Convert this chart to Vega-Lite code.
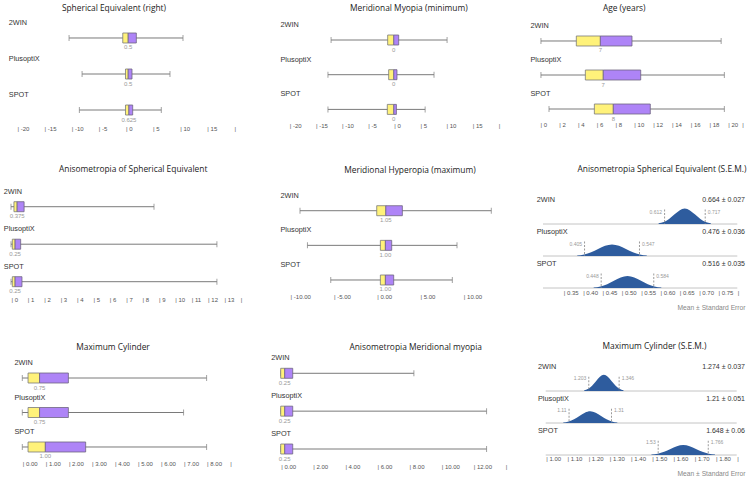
{
"$schema": "https://vega.github.io/schema/vega-lite/v6.json",
"padding": {"left": 2, "top": 3, "right": 2, "bottom": 2},
"background": "white",
"columns": 3,
"bounds": "flush",
"align": "each",
"spacing": {"row": 76, "column": 28},
"config": {
  "view": {"stroke": null},
  "font": "Liberation Sans",
  "title": {"font": "Open Sans", "fontSize": 8.4, "fontWeight": "normal", "color": "#222", "baseline": "middle", "frame": "group", "anchor": "middle"},
  "axis": {"grid": false, "domain": false, "ticks": false, "labelFont": "Liberation Sans", "labelFontSize": 6, "labelColor": "#555", "labelFlush": false, "labelOverlap": false, "labelBound": false},
  "axisX": {"labelAlign": "left", "labelBaseline": "middle", "labelDx": -1, "labelOverlap": false, "tickCount": 100},
  "axisY": {"labelAlign": "left", "labelBaseline": "middle", "labelFontSize": 7.3, "labelColor": "#333", "labelOffset": -15.5},
  "text": {"font": "Liberation Sans"}
},
"datasets": {
  "se": [
    {"device": "2WIN", "min": -10.4, "q1": -0.5, "median": 0.5, "q3": 2.0, "max": 10.6, "medianLabel": "0.5"},
    {"device": "PlusoptiX", "min": -8.0, "q1": 0.0, "median": 0.5, "q3": 1.2, "max": 8.2, "medianLabel": "0.5"},
    {"device": "SPOT", "min": -8.5, "q1": 0.0, "median": 0.625, "q3": 1.33, "max": 6.6, "medianLabel": "0.625"}
  ],
  "mm": [
    {"device": "2WIN", "min": -12.0, "q1": -1.17, "median": 0, "q3": 0.94, "max": 10.2, "medianLabel": "0"},
    {"device": "PlusoptiX", "min": -12.6, "q1": -0.98, "median": 0, "q3": 0.61, "max": 7.7, "medianLabel": "0"},
    {"device": "SPOT", "min": -12.6, "q1": -1.24, "median": 0, "q3": 0.5, "max": 6.0, "medianLabel": "0"}
  ],
  "age": [
    {"device": "2WIN", "min": 0.1, "q1": 3.87, "median": 6.43, "q3": 9.8, "max": 19.3, "medianLabel": "7"},
    {"device": "PlusoptiX", "min": 0.1, "q1": 4.83, "median": 6.74, "q3": 10.73, "max": 19.64, "medianLabel": "7"},
    {"device": "SPOT", "min": 0.96, "q1": 5.79, "median": 7.81, "q3": 11.75, "max": 19.64, "medianLabel": "8"}
  ],
  "aniso": [
    {"device": "2WIN", "min": 0, "q1": 0.18, "median": 0.375, "q3": 0.8, "max": 8.73, "medianLabel": "0.375"},
    {"device": "PlusoptiX", "min": 0, "q1": 0.08, "median": 0.25, "q3": 0.59, "max": 12.57, "medianLabel": "0.25"},
    {"device": "SPOT", "min": 0, "q1": 0.08, "median": 0.25, "q3": 0.67, "max": 12.57, "medianLabel": "0.25"}
  ],
  "mh": [
    {"device": "2WIN", "min": -8.86, "q1": 0, "median": 1.05, "q3": 2.96, "max": 13.23, "medianLabel": "1.05"},
    {"device": "PlusoptiX", "min": -8.0, "q1": 0.42, "median": 1.0, "q3": 1.73, "max": 9.27, "medianLabel": "1.00"},
    {"device": "SPOT", "min": -5.31, "q1": 0.42, "median": 1.0, "q3": 1.96, "max": 8.73, "medianLabel": "1.00"}
  ],
  "cyl": [
    {"device": "2WIN", "min": 0, "q1": 0.25, "median": 0.75, "q3": 2.0, "max": 8.0, "medianLabel": "0.75"},
    {"device": "PlusoptiX", "min": 0, "q1": 0.25, "median": 0.75, "q3": 2.0, "max": 7.0, "medianLabel": "0.75"},
    {"device": "SPOT", "min": 0, "q1": 0.25, "median": 1.0, "q3": 2.75, "max": 8.0, "medianLabel": "1.00"}
  ],
  "amm": [
    {"device": "2WIN", "min": 0, "q1": 0, "median": 0.25, "q3": 0.75, "max": 8.3, "medianLabel": "0.25"},
    {"device": "PlusoptiX", "min": 0, "q1": 0, "median": 0.25, "q3": 0.75, "max": 12.83, "medianLabel": "0.25"},
    {"device": "SPOT", "min": 0, "q1": 0, "median": 0.25, "q3": 0.75, "max": 12.83, "medianLabel": "0.25"}
  ],
  "semA": [
    {"device": "2WIN", "x": 0.5965, "density": 0.65}, {"device": "2WIN", "x": 0.610, "density": 2.0}, {"device": "2WIN", "x": 0.6235, "density": 4.8}, {"device": "2WIN", "x": 0.637, "density": 9.0}, {"device": "2WIN", "x": 0.6505, "density": 13.0}, {"device": "2WIN", "x": 0.664, "density": 14.8}, {"device": "2WIN", "x": 0.6775, "density": 13.0}, {"device": "2WIN", "x": 0.691, "density": 9.0}, {"device": "2WIN", "x": 0.7045, "density": 4.8}, {"device": "2WIN", "x": 0.718, "density": 2.0}, {"device": "2WIN", "x": 0.7315, "density": 0.65},
    {"device": "PlusoptiX", "x": 0.386, "density": 0.5}, {"device": "PlusoptiX", "x": 0.404, "density": 1.5}, {"device": "PlusoptiX", "x": 0.422, "density": 3.6}, {"device": "PlusoptiX", "x": 0.440, "density": 6.7}, {"device": "PlusoptiX", "x": 0.458, "density": 9.8}, {"device": "PlusoptiX", "x": 0.476, "density": 11.1}, {"device": "PlusoptiX", "x": 0.494, "density": 9.8}, {"device": "PlusoptiX", "x": 0.512, "density": 6.7}, {"device": "PlusoptiX", "x": 0.530, "density": 3.6}, {"device": "PlusoptiX", "x": 0.548, "density": 1.5}, {"device": "PlusoptiX", "x": 0.566, "density": 0.5},
    {"device": "SPOT", "x": 0.4285, "density": 0.5}, {"device": "SPOT", "x": 0.446, "density": 1.5}, {"device": "SPOT", "x": 0.4635, "density": 3.7}, {"device": "SPOT", "x": 0.481, "density": 6.9}, {"device": "SPOT", "x": 0.4985, "density": 10.1}, {"device": "SPOT", "x": 0.516, "density": 11.4}, {"device": "SPOT", "x": 0.5335, "density": 10.1}, {"device": "SPOT", "x": 0.551, "density": 6.9}, {"device": "SPOT", "x": 0.5685, "density": 3.7}, {"device": "SPOT", "x": 0.586, "density": 1.5}, {"device": "SPOT", "x": 0.6035, "density": 0.5}
  ],
  "semAci": [
    {"device": "2WIN", "lo": 0.612, "hi": 0.717, "loLabel": "0.612", "hiLabel": "0.717", "valueLabel": "0.664 ± 0.027"},
    {"device": "PlusoptiX", "lo": 0.405, "hi": 0.547, "loLabel": "0.405", "hiLabel": "0.547", "valueLabel": "0.476 ± 0.036"},
    {"device": "SPOT", "lo": 0.448, "hi": 0.584, "loLabel": "0.448", "hiLabel": "0.584", "valueLabel": "0.516 ± 0.035"}
  ],
  "semC": [
    {"device": "2WIN", "x": 1.1815, "density": 0.47}, {"device": "2WIN", "x": 1.200, "density": 1.46}, {"device": "2WIN", "x": 1.2185, "density": 3.5}, {"device": "2WIN", "x": 1.237, "density": 6.54}, {"device": "2WIN", "x": 1.2555, "density": 9.5}, {"device": "2WIN", "x": 1.274, "density": 10.78}, {"device": "2WIN", "x": 1.2925, "density": 9.5}, {"device": "2WIN", "x": 1.311, "density": 6.54}, {"device": "2WIN", "x": 1.3295, "density": 3.5}, {"device": "2WIN", "x": 1.348, "density": 1.46}, {"device": "2WIN", "x": 1.3665, "density": 0.47},
    {"device": "PlusoptiX", "x": 1.0825, "density": 0.34}, {"device": "PlusoptiX", "x": 1.108, "density": 1.06}, {"device": "PlusoptiX", "x": 1.1335, "density": 2.54}, {"device": "PlusoptiX", "x": 1.159, "density": 4.75}, {"device": "PlusoptiX", "x": 1.1845, "density": 6.9}, {"device": "PlusoptiX", "x": 1.21, "density": 7.82}, {"device": "PlusoptiX", "x": 1.2355, "density": 6.9}, {"device": "PlusoptiX", "x": 1.261, "density": 4.75}, {"device": "PlusoptiX", "x": 1.2865, "density": 2.54}, {"device": "PlusoptiX", "x": 1.312, "density": 1.06}, {"device": "PlusoptiX", "x": 1.3375, "density": 0.34},
    {"device": "SPOT", "x": 1.498, "density": 0.29}, {"device": "SPOT", "x": 1.528, "density": 0.9}, {"device": "SPOT", "x": 1.558, "density": 2.16}, {"device": "SPOT", "x": 1.588, "density": 4.03}, {"device": "SPOT", "x": 1.618, "density": 5.87}, {"device": "SPOT", "x": 1.648, "density": 6.65}, {"device": "SPOT", "x": 1.678, "density": 5.87}, {"device": "SPOT", "x": 1.708, "density": 4.03}, {"device": "SPOT", "x": 1.738, "density": 2.16}, {"device": "SPOT", "x": 1.768, "density": 0.9}, {"device": "SPOT", "x": 1.798, "density": 0.29}
  ],
  "semCci": [
    {"device": "2WIN", "lo": 1.203, "hi": 1.346, "loLabel": "1.203", "hiLabel": "1.346", "valueLabel": "1.274 ± 0.037"},
    {"device": "PlusoptiX", "lo": 1.11, "hi": 1.31, "loLabel": "1.11", "hiLabel": "1.31", "valueLabel": "1.21 ± 0.051"},
    {"device": "SPOT", "lo": 1.53, "hi": 1.766, "loLabel": "1.53", "hiLabel": "1.766", "valueLabel": "1.648 ± 0.06"}
  ]
},
"concat": [
  {
    "width": 248, "height": 96,
    "title": {"text": "Spherical Equivalent (right)", "offset": 5.65, "dx": -12},
    "data": {"name": "se"},
    "encoding": {"y": {"field": "device", "type": "nominal", "title": null, "scale": {"type": "point", "padding": 0.333, "domain": ["2WIN", "PlusoptiX", "SPOT"]}, "axis": {"labelPadding": -6.3}}},
    "layer": [
      {"mark": {"type": "rule", "color": "#7a7a7a", "strokeWidth": 1}, "encoding": {"x": {"field": "min", "type": "quantitative", "title": null, "scale": {"domain": [-22.76, 22.95], "nice": false, "zero": false}, "axis": {"title": null, "tickCount": 100, "labelOverlap": false, "values": [-20, -15, -10, -5, 0, 5, 10, 15, 20], "labelExpr": "datum.value == 20 ? '|' : '| ' + datum.value", "labelPadding": 6.4}}, "x2": {"field": "max"}}},
      {"mark": {"type": "tick", "color": "#7a7a7a", "thickness": 1, "size": 6}, "encoding": {"x": {"field": "min", "type": "quantitative", "title": null}}},
      {"mark": {"type": "tick", "color": "#7a7a7a", "thickness": 1, "size": 6}, "encoding": {"x": {"field": "max", "type": "quantitative", "title": null}}},
      {"mark": {"type": "bar", "height": 10, "fill": "#fff27a", "stroke": "#7a7a7a", "strokeWidth": 0.8}, "encoding": {"x": {"field": "q1", "type": "quantitative", "title": null}, "x2": {"field": "median"}}},
      {"mark": {"type": "bar", "height": 10, "fill": "#ae84f7", "stroke": "#6f6680", "strokeWidth": 0.8}, "encoding": {"x": {"field": "median", "type": "quantitative", "title": null}, "x2": {"field": "q3"}}},
      {"mark": {"type": "text", "dy": 9.5, "fontSize": 6, "color": "#999", "baseline": "middle"}, "encoding": {"x": {"field": "median", "type": "quantitative", "title": null}, "text": {"field": "medianLabel"}}}
    ]
  },
  {
    "width": 232, "height": 97.4,
    "title": {"text": "Meridional Myopia (minimum)", "offset": 7.65, "dx": 14.8},
    "data": {"name": "mm"},
    "encoding": {"y": {"field": "device", "type": "nominal", "title": null, "scale": {"type": "point", "padding": 0.4035, "domain": ["2WIN", "PlusoptiX", "SPOT"]}, "axis": {"labelPadding": -2}}},
    "layer": [
      {"mark": {"type": "rule", "color": "#7a7a7a", "strokeWidth": 1}, "encoding": {"x": {"field": "min", "type": "quantitative", "title": null, "scale": {"domain": [-22.16, 22.24], "nice": false, "zero": false}, "axis": {"title": null, "tickCount": 100, "labelOverlap": false, "values": [-20, -15, -10, -5, 0, 5, 10, 15, 20], "labelExpr": "datum.value == 20 ? '|' : '| ' + datum.value", "labelPadding": 2.3}}, "x2": {"field": "max"}}},
      {"mark": {"type": "tick", "color": "#7a7a7a", "thickness": 1, "size": 6}, "encoding": {"x": {"field": "min", "type": "quantitative", "title": null}}},
      {"mark": {"type": "tick", "color": "#7a7a7a", "thickness": 1, "size": 6}, "encoding": {"x": {"field": "max", "type": "quantitative", "title": null}}},
      {"mark": {"type": "bar", "height": 10, "fill": "#fff27a", "stroke": "#7a7a7a", "strokeWidth": 0.8}, "encoding": {"x": {"field": "q1", "type": "quantitative", "title": null}, "x2": {"field": "median"}}},
      {"mark": {"type": "bar", "height": 10, "fill": "#ae84f7", "stroke": "#6f6680", "strokeWidth": 0.8}, "encoding": {"x": {"field": "median", "type": "quantitative", "title": null}, "x2": {"field": "q3"}}},
      {"mark": {"type": "text", "dy": 9.5, "fontSize": 6, "color": "#999", "baseline": "middle"}, "encoding": {"x": {"field": "median", "type": "quantitative", "title": null}, "text": {"field": "medianLabel"}}}
    ]
  },
  {
    "width": 207, "height": 98,
    "title": {"text": "Age (years)", "offset": 9.25, "dx": -17.3},
    "data": {"name": "age"},
    "encoding": {"y": {"field": "device", "type": "nominal", "title": null, "scale": {"type": "point", "padding": 0.441, "domain": ["2WIN", "PlusoptiX", "SPOT"]}, "axis": {"labelPadding": 8}}},
    "layer": [
      {"mark": {"type": "rule", "color": "#7a7a7a", "strokeWidth": 1}, "encoding": {"x": {"field": "min", "type": "quantitative", "title": null, "scale": {"domain": [-0.213, 21.84], "nice": false, "zero": false}, "axis": {"title": null, "tickCount": 100, "labelOverlap": false, "values": [0, 2, 4, 6, 8, 10, 12, 14, 16, 18, 20, 21.5], "labelExpr": "datum.value > 21 ? '|' : '| ' + datum.value", "labelPadding": 0.4}}, "x2": {"field": "max"}}},
      {"mark": {"type": "tick", "color": "#7a7a7a", "thickness": 1, "size": 6}, "encoding": {"x": {"field": "min", "type": "quantitative", "title": null}}},
      {"mark": {"type": "tick", "color": "#7a7a7a", "thickness": 1, "size": 6}, "encoding": {"x": {"field": "max", "type": "quantitative", "title": null}}},
      {"mark": {"type": "bar", "height": 10, "fill": "#fff27a", "stroke": "#7a7a7a", "strokeWidth": 0.8}, "encoding": {"x": {"field": "q1", "type": "quantitative", "title": null}, "x2": {"field": "median"}}},
      {"mark": {"type": "bar", "height": 10, "fill": "#ae84f7", "stroke": "#6f6680", "strokeWidth": 0.8}, "encoding": {"x": {"field": "median", "type": "quantitative", "title": null}, "x2": {"field": "q3"}}},
      {"mark": {"type": "text", "dy": 9.5, "fontSize": 6, "color": "#999", "baseline": "middle"}, "encoding": {"x": {"field": "median", "type": "quantitative", "title": null}, "text": {"field": "medianLabel"}}}
    ]
  },
  {
    "width": 248, "height": 88.4,
    "title": {"text": "Anisometropia of Spherical Equivalent", "offset": 13.65, "dx": 7.2},
    "data": {"name": "aniso"},
    "encoding": {"y": {"field": "device", "type": "nominal", "title": null, "scale": {"type": "point", "padding": 0.179, "domain": ["2WIN", "PlusoptiX", "SPOT"]}, "axis": {"labelPadding": -1.3}}},
    "layer": [
      {"mark": {"type": "rule", "color": "#7a7a7a", "strokeWidth": 1}, "encoding": {"x": {"field": "min", "type": "quantitative", "title": null, "scale": {"domain": [-0.549, 14.59], "nice": false, "zero": false}, "axis": {"title": null, "tickCount": 100, "labelOverlap": false, "values": [0, 1, 2, 3, 4, 5, 6, 7, 8, 9, 10, 11, 12, 13, 14], "labelExpr": "datum.value == 14 ? '|' : '| ' + datum.value", "labelPadding": 10.9}}, "x2": {"field": "max"}}},
      {"mark": {"type": "tick", "color": "#7a7a7a", "thickness": 1, "size": 6}, "encoding": {"x": {"field": "min", "type": "quantitative", "title": null}}},
      {"mark": {"type": "tick", "color": "#7a7a7a", "thickness": 1, "size": 6}, "encoding": {"x": {"field": "max", "type": "quantitative", "title": null}}},
      {"mark": {"type": "bar", "height": 10, "fill": "#fff27a", "stroke": "#7a7a7a", "strokeWidth": 0.8}, "encoding": {"x": {"field": "q1", "type": "quantitative", "title": null}, "x2": {"field": "median"}}},
      {"mark": {"type": "bar", "height": 10, "fill": "#ae84f7", "stroke": "#6f6680", "strokeWidth": 0.8}, "encoding": {"x": {"field": "median", "type": "quantitative", "title": null}, "x2": {"field": "q3"}}},
      {"mark": {"type": "text", "dy": 9.5, "fontSize": 6, "color": "#999", "baseline": "middle"}, "encoding": {"x": {"field": "median", "type": "quantitative", "title": null}, "text": {"field": "medianLabel"}}}
    ]
  },
  {
    "width": 232, "height": 90.7,
    "title": {"text": "Meridional Hyperopia (maximum)", "offset": 16.65, "dx": 16},
    "data": {"name": "mh"},
    "encoding": {"y": {"field": "device", "type": "nominal", "title": null, "scale": {"type": "point", "padding": 0.309, "domain": ["2WIN", "PlusoptiX", "SPOT"]}, "axis": {"labelPadding": -2}}},
    "layer": [
      {"mark": {"type": "rule", "color": "#7a7a7a", "strokeWidth": 1}, "encoding": {"x": {"field": "min", "type": "quantitative", "title": null, "scale": {"domain": [-11.40, 15.39], "nice": false, "zero": false}, "axis": {"title": null, "tickCount": 100, "labelOverlap": false, "values": [-10, -5, 0, 5, 10], "labelExpr": "'| ' + (datum.value < 0 ? '-' : '') + format(abs(datum.value), '.2f')", "labelPadding": 5.3}}, "x2": {"field": "max"}}},
      {"mark": {"type": "tick", "color": "#7a7a7a", "thickness": 1, "size": 6}, "encoding": {"x": {"field": "min", "type": "quantitative", "title": null}}},
      {"mark": {"type": "tick", "color": "#7a7a7a", "thickness": 1, "size": 6}, "encoding": {"x": {"field": "max", "type": "quantitative", "title": null}}},
      {"mark": {"type": "bar", "height": 10, "fill": "#fff27a", "stroke": "#7a7a7a", "strokeWidth": 0.8}, "encoding": {"x": {"field": "q1", "type": "quantitative", "title": null}, "x2": {"field": "median"}}},
      {"mark": {"type": "bar", "height": 10, "fill": "#ae84f7", "stroke": "#6f6680", "strokeWidth": 0.8}, "encoding": {"x": {"field": "median", "type": "quantitative", "title": null}, "x2": {"field": "q3"}}},
      {"mark": {"type": "text", "dy": 9.5, "fontSize": 6, "color": "#999", "baseline": "middle"}, "encoding": {"x": {"field": "median", "type": "quantitative", "title": null}, "text": {"field": "medianLabel"}}}
    ]
  },
  {
    "bounds": "flush",
    "spacing": 8,
    "vconcat": [
      {
        "width": 207, "height": 24,
        "title": {"text": "Anisometropia Spherical Equivalent (S.E.M.)", "offset": 22.15, "dx": 20.5},
        "layer": [
          {"data": {"name": "semAci"}, "transform": [{"filter": "datum.device == '2WIN'"}], "mark": {"type": "rule", "color": "#c4c4c4", "strokeWidth": 1}, "encoding": {"x": {"datum": 0.2975, "type": "quantitative", "scale": {"domain": [0.2846, 0.8199], "nice": false, "zero": false}, "axis": {"labels": false, "title": null}}, "x2": {"datum": 0.8}, "y": {"datum": 0, "type": "quantitative", "scale": {"domain": [0, 23], "nice": false, "zero": false}, "axis": {"labels": false, "title": null}}}},
          {"data": {"name": "semA"}, "transform": [{"filter": "datum.device == '2WIN'"}], "mark": {"type": "area", "color": "#2e5c9e", "interpolate": "monotone"}, "encoding": {"x": {"field": "x", "type": "quantitative", "title": null}, "y": {"field": "density", "type": "quantitative", "title": null}}},
          {"data": {"name": "semAci"}, "transform": [{"filter": "datum.device == '2WIN'"}], "layer": [
            {"mark": {"type": "rule", "color": "#9a9a9a", "strokeDash": [2, 1.5], "strokeWidth": 1}, "encoding": {"x": {"field": "lo", "type": "quantitative", "title": null}, "y": {"datum": 13.9, "type": "quantitative"}, "y2": {"datum": 0}}},
            {"mark": {"type": "rule", "color": "#9a9a9a", "strokeDash": [2, 1.5], "strokeWidth": 1}, "encoding": {"x": {"field": "hi", "type": "quantitative", "title": null}, "y": {"datum": 13.9, "type": "quantitative"}, "y2": {"datum": 0}}},
            {"mark": {"type": "text", "align": "right", "dx": -2.5, "fontSize": 5, "color": "#999", "baseline": "middle"}, "encoding": {"x": {"field": "lo", "type": "quantitative", "title": null}, "y": {"datum": 11.5, "type": "quantitative"}, "text": {"field": "loLabel"}}},
            {"mark": {"type": "text", "align": "left", "dx": 2.5, "fontSize": 5, "color": "#999", "baseline": "middle"}, "encoding": {"x": {"field": "hi", "type": "quantitative", "title": null}, "y": {"datum": 11.5, "type": "quantitative"}, "text": {"field": "hiLabel"}}},
            {"mark": {"type": "text", "align": "left", "dx": -1.3, "fontSize": 7.3, "color": "#333", "baseline": "middle"}, "encoding": {"x": {"datum": 0.2846, "type": "quantitative"}, "y": {"datum": 23, "type": "quantitative"}, "text": {"field": "device"}}},
            {"mark": {"type": "text", "align": "right", "fontSize": 7, "color": "#333", "baseline": "middle"}, "encoding": {"x": {"datum": 0.8199, "type": "quantitative"}, "y": {"datum": 23, "type": "quantitative"}, "text": {"field": "valueLabel"}}}
          ]}
        ]
      },
      {
        "width": 207, "height": 24,
        "layer": [
          {"data": {"name": "semAci"}, "transform": [{"filter": "datum.device == 'PlusoptiX'"}], "mark": {"type": "rule", "color": "#c4c4c4", "strokeWidth": 1}, "encoding": {"x": {"datum": 0.2975, "type": "quantitative", "scale": {"domain": [0.2846, 0.8199], "nice": false, "zero": false}, "axis": {"labels": false, "title": null}}, "x2": {"datum": 0.8}, "y": {"datum": 0, "type": "quantitative", "scale": {"domain": [0, 23], "nice": false, "zero": false}, "axis": {"labels": false, "title": null}}}},
          {"data": {"name": "semA"}, "transform": [{"filter": "datum.device == 'PlusoptiX'"}], "mark": {"type": "area", "color": "#2e5c9e", "interpolate": "monotone"}, "encoding": {"x": {"field": "x", "type": "quantitative", "title": null}, "y": {"field": "density", "type": "quantitative", "title": null}}},
          {"data": {"name": "semAci"}, "transform": [{"filter": "datum.device == 'PlusoptiX'"}], "layer": [
            {"mark": {"type": "rule", "color": "#9a9a9a", "strokeDash": [2, 1.5], "strokeWidth": 1}, "encoding": {"x": {"field": "lo", "type": "quantitative", "title": null}, "y": {"datum": 13.9, "type": "quantitative"}, "y2": {"datum": 0}}},
            {"mark": {"type": "rule", "color": "#9a9a9a", "strokeDash": [2, 1.5], "strokeWidth": 1}, "encoding": {"x": {"field": "hi", "type": "quantitative", "title": null}, "y": {"datum": 13.9, "type": "quantitative"}, "y2": {"datum": 0}}},
            {"mark": {"type": "text", "align": "right", "dx": -2.5, "fontSize": 5, "color": "#999", "baseline": "middle"}, "encoding": {"x": {"field": "lo", "type": "quantitative", "title": null}, "y": {"datum": 11.5, "type": "quantitative"}, "text": {"field": "loLabel"}}},
            {"mark": {"type": "text", "align": "left", "dx": 2.5, "fontSize": 5, "color": "#999", "baseline": "middle"}, "encoding": {"x": {"field": "hi", "type": "quantitative", "title": null}, "y": {"datum": 11.5, "type": "quantitative"}, "text": {"field": "hiLabel"}}},
            {"mark": {"type": "text", "align": "left", "dx": -1.3, "fontSize": 7.3, "color": "#333", "baseline": "middle"}, "encoding": {"x": {"datum": 0.2846, "type": "quantitative"}, "y": {"datum": 23, "type": "quantitative"}, "text": {"field": "device"}}},
            {"mark": {"type": "text", "align": "right", "fontSize": 7, "color": "#333", "baseline": "middle"}, "encoding": {"x": {"datum": 0.8199, "type": "quantitative"}, "y": {"datum": 23, "type": "quantitative"}, "text": {"field": "valueLabel"}}}
          ]}
        ]
      },
      {
        "width": 207, "height": 24,
        "layer": [
          {"data": {"name": "semAci"}, "transform": [{"filter": "datum.device == 'SPOT'"}], "mark": {"type": "rule", "color": "#c4c4c4", "strokeWidth": 1}, "encoding": {"x": {"datum": 0.2975, "type": "quantitative", "scale": {"domain": [0.2846, 0.8199], "nice": false, "zero": false}, "axis": {"title": "Mean ± Standard Error", "tickCount": 100, "labelOverlap": false, "values": [0.35, 0.4, 0.45, 0.5, 0.55, 0.6, 0.65, 0.7, 0.75, 0.8], "labelExpr": "datum.value > 0.79 ? '|' : '| ' + format(datum.value, '.2f')", "labelPadding": 4.4, "titleFont": "Liberation Sans", "titleFontSize": 6.7, "titleFontWeight": "normal", "titleColor": "#888", "titleAnchor": "end", "titleAlign": "right", "titlePadding": 9}}, "x2": {"datum": 0.8}, "y": {"datum": 0, "type": "quantitative", "scale": {"domain": [0, 23], "nice": false, "zero": false}, "axis": {"labels": false, "title": null}}}},
          {"data": {"name": "semA"}, "transform": [{"filter": "datum.device == 'SPOT'"}], "mark": {"type": "area", "color": "#2e5c9e", "interpolate": "monotone"}, "encoding": {"x": {"field": "x", "type": "quantitative"}, "y": {"field": "density", "type": "quantitative", "title": null}}},
          {"data": {"name": "semAci"}, "transform": [{"filter": "datum.device == 'SPOT'"}], "layer": [
            {"mark": {"type": "rule", "color": "#9a9a9a", "strokeDash": [2, 1.5], "strokeWidth": 1}, "encoding": {"x": {"field": "lo", "type": "quantitative"}, "y": {"datum": 13.9, "type": "quantitative"}, "y2": {"datum": 0}}},
            {"mark": {"type": "rule", "color": "#9a9a9a", "strokeDash": [2, 1.5], "strokeWidth": 1}, "encoding": {"x": {"field": "hi", "type": "quantitative"}, "y": {"datum": 13.9, "type": "quantitative"}, "y2": {"datum": 0}}},
            {"mark": {"type": "text", "align": "right", "dx": -2.5, "fontSize": 5, "color": "#999", "baseline": "middle"}, "encoding": {"x": {"field": "lo", "type": "quantitative"}, "y": {"datum": 11.5, "type": "quantitative"}, "text": {"field": "loLabel"}}},
            {"mark": {"type": "text", "align": "left", "dx": 2.5, "fontSize": 5, "color": "#999", "baseline": "middle"}, "encoding": {"x": {"field": "hi", "type": "quantitative"}, "y": {"datum": 11.5, "type": "quantitative"}, "text": {"field": "hiLabel"}}},
            {"mark": {"type": "text", "align": "left", "dx": -1.3, "fontSize": 7.3, "color": "#333", "baseline": "middle"}, "encoding": {"x": {"datum": 0.2846, "type": "quantitative"}, "y": {"datum": 23, "type": "quantitative"}, "text": {"field": "device"}}},
            {"mark": {"type": "text", "align": "right", "fontSize": 7, "color": "#333", "baseline": "middle"}, "encoding": {"x": {"datum": 0.8199, "type": "quantitative"}, "y": {"datum": 23, "type": "quantitative"}, "text": {"field": "valueLabel"}}}
          ]}
        ]
      }
    ]
  },
  {
    "width": 248, "height": 91,
    "title": {"text": "Maximum Cylinder", "offset": 7.35, "dx": -13},
    "data": {"name": "cyl"},
    "encoding": {"y": {"field": "device", "type": "nominal", "title": null, "scale": {"type": "point", "padding": 0.319, "domain": ["2WIN", "PlusoptiX", "SPOT"]}, "axis": {"labelPadding": -12}}},
    "layer": [
      {"mark": {"type": "rule", "color": "#7a7a7a", "strokeWidth": 1}, "encoding": {"x": {"field": "min", "type": "quantitative", "title": null, "scale": {"domain": [-0.881, 9.883], "nice": false, "zero": false}, "axis": {"title": null, "tickCount": 100, "labelOverlap": false, "values": [0, 1, 2, 3, 4, 5, 6, 7, 8, 9], "labelExpr": "datum.value == 9 ? '|' : '| ' + format(datum.value, '.2f')", "labelPadding": 5}}, "x2": {"field": "max"}}},
      {"mark": {"type": "tick", "color": "#7a7a7a", "thickness": 1, "size": 6}, "encoding": {"x": {"field": "min", "type": "quantitative", "title": null}}},
      {"mark": {"type": "tick", "color": "#7a7a7a", "thickness": 1, "size": 6}, "encoding": {"x": {"field": "max", "type": "quantitative", "title": null}}},
      {"mark": {"type": "bar", "height": 10, "fill": "#fff27a", "stroke": "#7a7a7a", "strokeWidth": 0.8}, "encoding": {"x": {"field": "q1", "type": "quantitative", "title": null}, "x2": {"field": "median"}}},
      {"mark": {"type": "bar", "height": 10, "fill": "#ae84f7", "stroke": "#6f6680", "strokeWidth": 0.8}, "encoding": {"x": {"field": "median", "type": "quantitative", "title": null}, "x2": {"field": "q3"}}},
      {"mark": {"type": "text", "dy": 9.5, "fontSize": 6, "color": "#999", "baseline": "middle"}, "encoding": {"x": {"field": "median", "type": "quantitative", "title": null}, "text": {"field": "medianLabel"}}}
    ]
  },
  {
    "width": 232, "height": 88.3,
    "title": {"text": "Anisometropia Meridional myopia", "offset": 2.25, "dx": 21.7},
    "data": {"name": "amm"},
    "encoding": {"y": {"field": "device", "type": "nominal", "title": null, "scale": {"type": "point", "padding": 0.166, "domain": ["2WIN", "PlusoptiX", "SPOT"]}, "axis": {"labelPadding": 7.3}}},
    "layer": [
      {"mark": {"type": "rule", "color": "#7a7a7a", "strokeWidth": 1}, "encoding": {"x": {"field": "min", "type": "quantitative", "title": null, "scale": {"domain": [-0.168, 14.29], "nice": false, "zero": false}, "axis": {"title": null, "tickCount": 100, "labelOverlap": false, "values": [0, 2, 4, 6, 8, 10, 12, 14], "labelExpr": "datum.value == 14 ? '|' : '| ' + format(datum.value, '.2f')", "labelPadding": 11}}, "x2": {"field": "max"}}},
      {"mark": {"type": "tick", "color": "#7a7a7a", "thickness": 1, "size": 6}, "encoding": {"x": {"field": "min", "type": "quantitative", "title": null}}},
      {"mark": {"type": "tick", "color": "#7a7a7a", "thickness": 1, "size": 6}, "encoding": {"x": {"field": "max", "type": "quantitative", "title": null}}},
      {"mark": {"type": "bar", "height": 10, "fill": "#fff27a", "stroke": "#7a7a7a", "strokeWidth": 0.8}, "encoding": {"x": {"field": "q1", "type": "quantitative", "title": null}, "x2": {"field": "median"}}},
      {"mark": {"type": "bar", "height": 10, "fill": "#ae84f7", "stroke": "#6f6680", "strokeWidth": 0.8}, "encoding": {"x": {"field": "median", "type": "quantitative", "title": null}, "x2": {"field": "q3"}}},
      {"mark": {"type": "text", "dy": 9.5, "fontSize": 6, "color": "#999", "baseline": "middle"}, "encoding": {"x": {"field": "median", "type": "quantitative", "title": null}, "text": {"field": "medianLabel"}}}
    ]
  },
  {
    "bounds": "flush",
    "spacing": 8,
    "vconcat": [
      {
        "width": 207, "height": 24,
        "title": {"text": "Maximum Cylinder (S.E.M.)", "offset": 12.15, "dx": 13},
        "layer": [
          {"data": {"name": "semCci"}, "transform": [{"filter": "datum.device == '2WIN'"}], "mark": {"type": "rule", "color": "#c4c4c4", "strokeWidth": 1}, "encoding": {"x": {"datum": 1.0, "type": "quantitative", "scale": {"domain": [0.9637, 1.9391], "nice": false, "zero": false}, "axis": {"labels": false, "title": null}}, "x2": {"datum": 1.9}, "y": {"datum": 0, "type": "quantitative", "scale": {"domain": [0, 16], "nice": false, "zero": false}, "axis": {"labels": false, "title": null}}}},
          {"data": {"name": "semC"}, "transform": [{"filter": "datum.device == '2WIN'"}], "mark": {"type": "area", "color": "#2e5c9e", "interpolate": "monotone"}, "encoding": {"x": {"field": "x", "type": "quantitative", "title": null}, "y": {"field": "density", "type": "quantitative", "title": null}}},
          {"data": {"name": "semCci"}, "transform": [{"filter": "datum.device == '2WIN'"}], "layer": [
            {"mark": {"type": "rule", "color": "#9a9a9a", "strokeDash": [2, 1.5], "strokeWidth": 1}, "encoding": {"x": {"field": "lo", "type": "quantitative", "title": null}, "y": {"datum": 9.5, "type": "quantitative"}, "y2": {"datum": 0}}},
            {"mark": {"type": "rule", "color": "#9a9a9a", "strokeDash": [2, 1.5], "strokeWidth": 1}, "encoding": {"x": {"field": "hi", "type": "quantitative", "title": null}, "y": {"datum": 9.5, "type": "quantitative"}, "y2": {"datum": 0}}},
            {"mark": {"type": "text", "align": "right", "dx": -2.5, "fontSize": 5, "color": "#999", "baseline": "middle"}, "encoding": {"x": {"field": "lo", "type": "quantitative", "title": null}, "y": {"datum": 8.4, "type": "quantitative"}, "text": {"field": "loLabel"}}},
            {"mark": {"type": "text", "align": "left", "dx": 2.5, "fontSize": 5, "color": "#999", "baseline": "middle"}, "encoding": {"x": {"field": "hi", "type": "quantitative", "title": null}, "y": {"datum": 8.4, "type": "quantitative"}, "text": {"field": "hiLabel"}}},
            {"mark": {"type": "text", "align": "left", "dx": 0, "fontSize": 7.3, "color": "#333", "baseline": "middle"}, "encoding": {"x": {"datum": 0.9637, "type": "quantitative"}, "y": {"datum": 16, "type": "quantitative"}, "text": {"field": "device"}}},
            {"mark": {"type": "text", "align": "right", "fontSize": 7, "color": "#333", "baseline": "middle"}, "encoding": {"x": {"datum": 1.9391, "type": "quantitative"}, "y": {"datum": 16, "type": "quantitative"}, "text": {"field": "valueLabel"}}}
          ]}
        ]
      },
      {
        "width": 207, "height": 24,
        "layer": [
          {"data": {"name": "semCci"}, "transform": [{"filter": "datum.device == 'PlusoptiX'"}], "mark": {"type": "rule", "color": "#c4c4c4", "strokeWidth": 1}, "encoding": {"x": {"datum": 1.0, "type": "quantitative", "scale": {"domain": [0.9637, 1.9391], "nice": false, "zero": false}, "axis": {"labels": false, "title": null}}, "x2": {"datum": 1.9}, "y": {"datum": 0, "type": "quantitative", "scale": {"domain": [0, 16], "nice": false, "zero": false}, "axis": {"labels": false, "title": null}}}},
          {"data": {"name": "semC"}, "transform": [{"filter": "datum.device == 'PlusoptiX'"}], "mark": {"type": "area", "color": "#2e5c9e", "interpolate": "monotone"}, "encoding": {"x": {"field": "x", "type": "quantitative", "title": null}, "y": {"field": "density", "type": "quantitative", "title": null}}},
          {"data": {"name": "semCci"}, "transform": [{"filter": "datum.device == 'PlusoptiX'"}], "layer": [
            {"mark": {"type": "rule", "color": "#9a9a9a", "strokeDash": [2, 1.5], "strokeWidth": 1}, "encoding": {"x": {"field": "lo", "type": "quantitative", "title": null}, "y": {"datum": 9.5, "type": "quantitative"}, "y2": {"datum": 0}}},
            {"mark": {"type": "rule", "color": "#9a9a9a", "strokeDash": [2, 1.5], "strokeWidth": 1}, "encoding": {"x": {"field": "hi", "type": "quantitative", "title": null}, "y": {"datum": 9.5, "type": "quantitative"}, "y2": {"datum": 0}}},
            {"mark": {"type": "text", "align": "right", "dx": -2.5, "fontSize": 5, "color": "#999", "baseline": "middle"}, "encoding": {"x": {"field": "lo", "type": "quantitative", "title": null}, "y": {"datum": 8.4, "type": "quantitative"}, "text": {"field": "loLabel"}}},
            {"mark": {"type": "text", "align": "left", "dx": 2.5, "fontSize": 5, "color": "#999", "baseline": "middle"}, "encoding": {"x": {"field": "hi", "type": "quantitative", "title": null}, "y": {"datum": 8.4, "type": "quantitative"}, "text": {"field": "hiLabel"}}},
            {"mark": {"type": "text", "align": "left", "dx": 0, "fontSize": 7.3, "color": "#333", "baseline": "middle"}, "encoding": {"x": {"datum": 0.9637, "type": "quantitative"}, "y": {"datum": 16, "type": "quantitative"}, "text": {"field": "device"}}},
            {"mark": {"type": "text", "align": "right", "fontSize": 7, "color": "#333", "baseline": "middle"}, "encoding": {"x": {"datum": 1.9391, "type": "quantitative"}, "y": {"datum": 16, "type": "quantitative"}, "text": {"field": "valueLabel"}}}
          ]}
        ]
      },
      {
        "width": 207, "height": 24,
        "layer": [
          {"data": {"name": "semCci"}, "transform": [{"filter": "datum.device == 'SPOT'"}], "mark": {"type": "rule", "color": "#c4c4c4", "strokeWidth": 1}, "encoding": {"x": {"datum": 1.0, "type": "quantitative", "scale": {"domain": [0.9637, 1.9391], "nice": false, "zero": false}, "axis": {"title": "Mean ± Standard Error", "tickCount": 100, "labelOverlap": false, "values": [1.0, 1.1, 1.2, 1.3, 1.4, 1.5, 1.6, 1.7, 1.8, 1.9], "labelExpr": "datum.value > 1.85 ? '|' : '| ' + format(datum.value, '.2f')", "labelPadding": 3.1, "titleFont": "Liberation Sans", "titleFontSize": 6.7, "titleFontWeight": "normal", "titleColor": "#888", "titleAnchor": "end", "titleAlign": "right", "titlePadding": 9}}, "x2": {"datum": 1.9}, "y": {"datum": 0, "type": "quantitative", "scale": {"domain": [0, 16], "nice": false, "zero": false}, "axis": {"labels": false, "title": null}}}},
          {"data": {"name": "semC"}, "transform": [{"filter": "datum.device == 'SPOT'"}], "mark": {"type": "area", "color": "#2e5c9e", "interpolate": "monotone"}, "encoding": {"x": {"field": "x", "type": "quantitative"}, "y": {"field": "density", "type": "quantitative", "title": null}}},
          {"data": {"name": "semCci"}, "transform": [{"filter": "datum.device == 'SPOT'"}], "layer": [
            {"mark": {"type": "rule", "color": "#9a9a9a", "strokeDash": [2, 1.5], "strokeWidth": 1}, "encoding": {"x": {"field": "lo", "type": "quantitative"}, "y": {"datum": 9.5, "type": "quantitative"}, "y2": {"datum": 0}}},
            {"mark": {"type": "rule", "color": "#9a9a9a", "strokeDash": [2, 1.5], "strokeWidth": 1}, "encoding": {"x": {"field": "hi", "type": "quantitative"}, "y": {"datum": 9.5, "type": "quantitative"}, "y2": {"datum": 0}}},
            {"mark": {"type": "text", "align": "right", "dx": -2.5, "fontSize": 5, "color": "#999", "baseline": "middle"}, "encoding": {"x": {"field": "lo", "type": "quantitative"}, "y": {"datum": 8.4, "type": "quantitative"}, "text": {"field": "loLabel"}}},
            {"mark": {"type": "text", "align": "left", "dx": 2.5, "fontSize": 5, "color": "#999", "baseline": "middle"}, "encoding": {"x": {"field": "hi", "type": "quantitative"}, "y": {"datum": 8.4, "type": "quantitative"}, "text": {"field": "hiLabel"}}},
            {"mark": {"type": "text", "align": "left", "dx": 0, "fontSize": 7.3, "color": "#333", "baseline": "middle"}, "encoding": {"x": {"datum": 0.9637, "type": "quantitative"}, "y": {"datum": 16, "type": "quantitative"}, "text": {"field": "device"}}},
            {"mark": {"type": "text", "align": "right", "fontSize": 7, "color": "#333", "baseline": "middle"}, "encoding": {"x": {"datum": 1.9391, "type": "quantitative"}, "y": {"datum": 16, "type": "quantitative"}, "text": {"field": "valueLabel"}}}
          ]}
        ]
      }
    ]
  }
]
}
